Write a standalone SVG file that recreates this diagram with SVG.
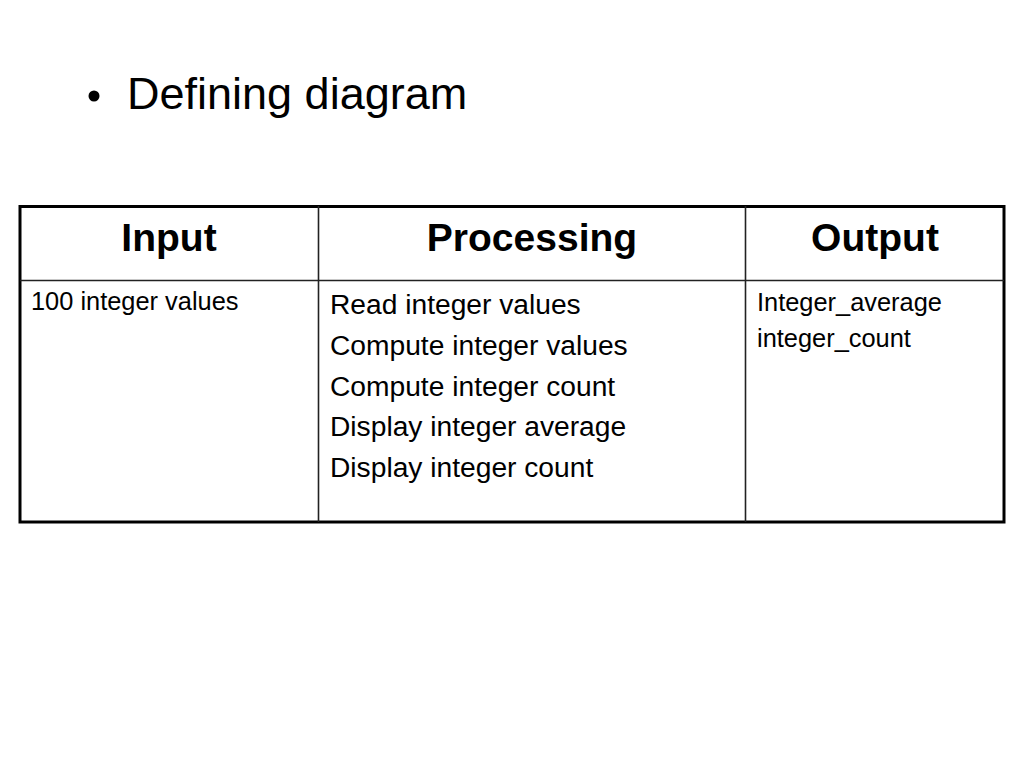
<svg xmlns="http://www.w3.org/2000/svg" width="1024" height="768" viewBox="0 0 1024 768">
<style>
text{font-family:"Liberation Sans",Arial,Helvetica,sans-serif;fill:#000}
.title{font-size:45px}
.hdr{font-size:39px;font-weight:bold;text-anchor:middle}
.proc{font-size:28.2px}
.small{font-size:25.4px}
.outer{fill:none;stroke:#000;stroke-width:3}
.inner{stroke:#222;stroke-width:1.6;fill:none}
</style>
<rect width="1024" height="768" fill="#fff"/>
<g id="title">
<circle cx="94" cy="96" r="5.5" fill="#000"/>
<text class="title" x="127" y="109">Defining diagram</text>
</g>
<g id="table">
<rect class="outer" x="20" y="206.5" width="984" height="315.5"/>
<line class="inner" x1="318.5" y1="206" x2="318.5" y2="522"/>
<line class="inner" x1="745.5" y1="206" x2="745.5" y2="522"/>
<line class="inner" x1="20" y1="280.5" x2="1004" y2="280.5"/>
</g>
<g id="col-input">
<text class="hdr" x="169" y="251">Input</text>
<text class="small" x="31" y="310">100 integer values</text>
</g>
<g id="col-processing">
<text class="hdr" x="532" y="251">Processing</text>
<text class="proc" x="330" y="314">Read integer values</text>
<text class="proc" x="330" y="355">Compute integer values</text>
<text class="proc" x="330" y="395.5">Compute integer count</text>
<text class="proc" x="330" y="436">Display integer average</text>
<text class="proc" x="330" y="476.5">Display integer count</text>
</g>
<g id="col-output">
<text class="hdr" x="875" y="251">Output</text>
<text class="small" x="757" y="311">Integer_average</text>
<text class="small" x="757" y="347">integer_count</text>
</g>
</svg>
